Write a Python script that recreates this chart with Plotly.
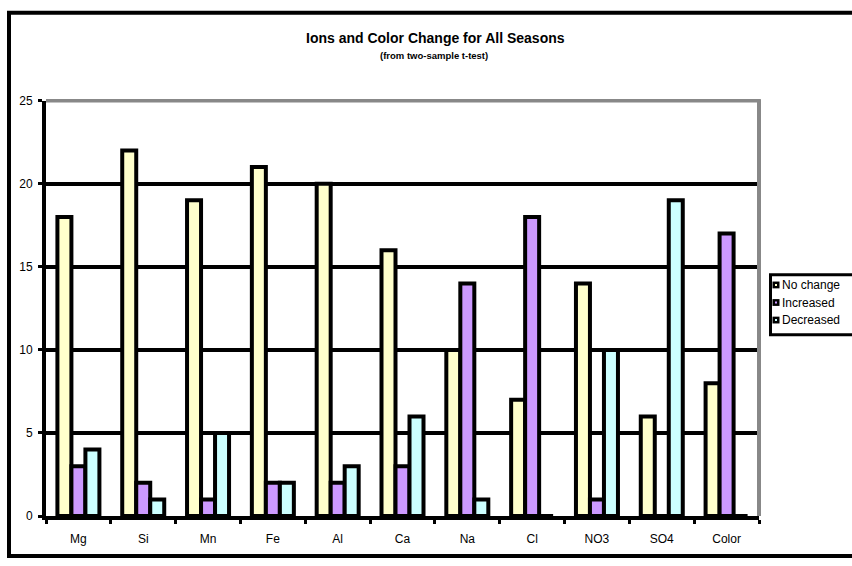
import plotly.graph_objects as go

# Ion / colour change counts per parameter (two-sample t-test results)
categories = ["Mg", "Si", "Mn", "Fe", "Al", "Ca", "Na", "Cl", "NO3", "SO4", "Color"]
no_change = [18, 22, 19, 21, 20, 16, 10, 7, 14, 6, 8]
increased = [3, 2, 1, 2, 2, 3, 14, 18, 1, 0, 17]
decreased = [4, 1, 5, 2, 3, 6, 1, 0, 10, 19, 0]
series_names = ["No change", "Increased", "Decreased"]
series_colors = ["#FFFFCC", "#CC99FF", "#CCFFFF"]
y_ticks = [0, 5, 10, 15, 20, 25]

W, H = 852, 566
FONT = "Arial, Liberation Sans, sans-serif"


def px(x):
    return x / W


def py(y):
    return 1 - y / H


fig = go.Figure()
for name, vals, col in zip(series_names, [no_change, increased, decreased], series_colors):
    fig.add_trace(go.Bar(
        x=categories, y=vals, name=name,
        marker=dict(color=col, line=dict(color="black", width=4)),
        showlegend=False,
    ))

X0, X1, Y0, Y1 = 46, 759, 522, 96

shapes = [
    # outer chart frame
    dict(type="rect", xref="paper", yref="paper",
         x0=px(9), x1=1.2, y0=py(563), y1=py(6),
         line=dict(color="black", width=4), layer="below"),
    # plot-area border (top and right, grey)
    dict(type="line", xref="paper", yref="paper",
         x0=px(X0), x1=px(X1 + 1.5), y0=py(Y1), y1=py(Y1),
         line=dict(color="#888888", width=3.5)),
    dict(type="line", xref="paper", yref="paper",
         x0=px(X1), x1=px(X1), y0=py(Y0), y1=py(Y1 - 1.5),
         line=dict(color="#888888", width=4)),
    # legend box
    dict(type="rect", xref="paper", yref="paper",
         x0=px(770.5), x1=1.2, y0=py(336), y1=py(274.5),
         line=dict(color="black", width=3), fillcolor="white"),
]

annotations = [
    dict(text="<b>Ions and Color Change for All Seasons</b>", x=px(436), y=py(32),
         xref="paper", yref="paper", showarrow=False, xanchor="center", yanchor="middle",
         font=dict(family=FONT, size=14, color="black")),
    dict(text="<b>(from two-sample t-test)</b>", x=px(434), y=py(50),
         xref="paper", yref="paper", showarrow=False, xanchor="center", yanchor="middle",
         font=dict(family=FONT, size=9.5, color="black")),
]

# legend entries
for i, (name, col) in enumerate(zip(series_names, series_colors)):
    cy = 285 + 18 * i
    shapes.append(dict(type="rect", xref="paper", yref="paper",
                       x0=px(772.5), x1=px(779.5), y0=py(cy + 3.5), y1=py(cy - 3.5),
                       line=dict(width=0), fillcolor="black"))
    shapes.append(dict(type="rect", xref="paper", yref="paper",
                       x0=px(775), x1=px(777), y0=py(cy + 1), y1=py(cy - 1),
                       line=dict(width=0), fillcolor=col))
    annotations.append(dict(text=name, x=px(780), y=py(cy), xref="paper", yref="paper",
                            showarrow=False, xanchor="left", yanchor="middle",
                            font=dict(family=FONT, size=12, color="black")))

fig.update_layout(
    width=W, height=H, autosize=False,
    margin=dict(l=0, r=0, t=0, b=0, pad=0),
    paper_bgcolor="white", plot_bgcolor="white",
    barmode="group", bargap=0.352, bargroupgap=0,
    font=dict(family=FONT, size=12, color="black"),
    shapes=shapes, annotations=annotations,
    showlegend=False,
    xaxis=dict(
        domain=[px(X0), px(X1)], type="category",
        showline=True, linecolor="black", linewidth=4,
        ticks="outside", tickson="boundaries", ticklen=4, tickwidth=3, tickcolor="black",
        showgrid=False, tickfont=dict(family=FONT, size=12),
        ticklabelstandoff=9,
    ),
    yaxis=dict(
        domain=[py(Y0), py(Y1)], range=[0, 25],
        tickvals=y_ticks, ticktext=[str(v) for v in y_ticks],
        showline=True, linecolor="black", linewidth=4,
        ticks="outside", ticklen=4, tickwidth=3, tickcolor="black",
        showgrid=True, gridcolor="black", gridwidth=3.5,
        zeroline=False, tickfont=dict(family=FONT, size=12),
        ticklabelstandoff=3,
    ),
)

fig.write_html("out.html")
